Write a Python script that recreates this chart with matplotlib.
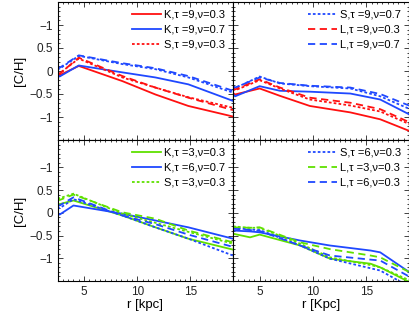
import numpy as np
import matplotlib
matplotlib.use('Agg')
import matplotlib.pyplot as plt
from matplotlib.ticker import MultipleLocator

plt.rcParams['font.family'] = ['Liberation Sans', 'DejaVu Sans']

RED = '#ff1010'
BLUE = '#1f48ff'
GREEN = '#5fe000'

# radius sample points (kpc)
r = [2.5, 2.7, 4.5, 8.6, 11.7, 14.8, 19.0]
r_b = [2.5, 2.7, 4.0, 8.6, 11.7, 14.8, 19.0]
r_r = [2.5, 2.7, 5.0, 6.9, 9.7, 13.5, 16.3, 19.0]
r_d = [2.5, 4.1, 5.0, 8.8, 11.6, 15.4, 16.3, 19.0]

# top-left panel
tl_K9_03 = [-0.07, -0.09, 0.11, -0.22, -0.51, -0.76, -0.99]
tl_K9_07 = [-0.08, -0.12, 0.12, -0.03, -0.14, -0.29, -0.65]
tl_S9_03 = [-0.02, -0.05, 0.27, -0.14, -0.36, -0.57, -0.80]
tl_S9_07 = [0.08, 0.05, 0.33, 0.15, 0.04, -0.14, -0.47]
tl_L9_03 = [-0.04, -0.06, 0.29, -0.11, -0.36, -0.58, -0.85]
tl_L9_07 = [0.10, 0.07, 0.34, 0.17, 0.06, -0.11, -0.43]

# top-right panel
tr_K9_03 = [-0.48, -0.51, -0.38, -0.54, -0.76, -0.90, -1.05, -1.30]
tr_K9_07 = [-0.50, -0.55, -0.33, -0.43, -0.45, -0.49, -0.62, -0.94]
tr_S9_03 = [-0.38, -0.42, -0.20, -0.38, -0.62, -0.75, -0.88, -1.15]
tr_S9_07 = [-0.33, -0.37, -0.12, -0.27, -0.33, -0.38, -0.55, -0.82]
tr_L9_03 = [-0.37, -0.40, -0.18, -0.36, -0.58, -0.69, -0.83, -1.11]
tr_L9_07 = [-0.33, -0.36, -0.14, -0.26, -0.32, -0.36, -0.50, -0.75]

# bottom-left panel
bl_K3_03 = [0.20, 0.19, 0.27, -0.06, -0.32, -0.57, -0.81]
bl_K6_07 = [0.00, -0.04, 0.16, -0.02, -0.17, -0.32, -0.57]
bl_S3_03 = [0.34, 0.32, 0.42, -0.02, -0.22, -0.42, -0.68]
bl_S6_03 = [0.12, 0.10, 0.30, -0.06, -0.32, -0.57, -0.94]
bl_L3_03 = [0.30, 0.28, 0.40, 0.01, -0.13, -0.39, -0.65]
bl_L6_03 = [0.18, 0.16, 0.34, -0.06, -0.25, -0.48, -0.75]

# bottom-right panel
br_K3_03 = [-0.46, -0.54, -0.48, -0.72, -1.01, -1.12, -1.20, -1.52]
br_K6_07 = [-0.39, -0.41, -0.43, -0.61, -0.72, -0.83, -0.87, -1.30]
br_S3_03 = [-0.30, -0.33, -0.33, -0.68, -0.98, -1.15, -1.20, -1.48]
br_S6_03 = [-0.33, -0.37, -0.38, -0.72, -1.01, -1.22, -1.27, -1.62]
br_L3_03 = [-0.32, -0.33, -0.32, -0.65, -0.80, -0.94, -0.98, -1.30]
br_L6_03 = [-0.35, -0.38, -0.40, -0.72, -0.94, -1.03, -1.05, -1.40]

yticks = [-1, -0.5, 0, 0.5, 1]
ytick_labels = ['\u22121', '\u22120.5', '0', '0.5', '\u22121']
xticks = [5, 10, 15]

fig = plt.figure(figsize=(4.09, 3.27), dpi=100)
W, H = 409.0, 327.0
x0, xm, x1 = 57.5, 233.0, 409.0
y0, ym, y1 = 2.0, 140.0, 281.0

ax_tl = fig.add_axes([x0/W, 1-ym/H, (xm-x0)/W, (ym-y0)/H])
ax_tr = fig.add_axes([xm/W, 1-ym/H, (x1-xm)/W, (ym-y0)/H])
ax_bl = fig.add_axes([x0/W, 1-y1/H, (xm-x0)/W, (y1-ym)/H])
ax_br = fig.add_axes([xm/W, 1-y1/H, (x1-xm)/W, (y1-ym)/H])

def style(ax, ylim, left, bottom):
    ax.set_xlim(2.5, 19)
    ax.set_ylim(*ylim)
    ax.set_xticks(xticks)
    ax.set_yticks(yticks)
    ax.xaxis.set_minor_locator(MultipleLocator(0.5))
    ax.yaxis.set_minor_locator(MultipleLocator(0.1))
    ax.tick_params(which='both', direction='in', top=True, right=True,
                   labelsize=8.5, colors='#222222', width=0.6)
    ax.tick_params(which='major', length=3.5)
    ax.tick_params(which='minor', length=1.5)
    if left:
        ax.set_yticklabels(ytick_labels)
        ax.set_ylabel('[C/H]', fontsize=9.5, labelpad=2)
    else:
        ax.set_yticklabels([])
    if not bottom:
        ax.set_xticklabels([])
    for s in ax.spines.values():
        s.set_linewidth(0.8)

def legend(ax, handles):
    ax.legend(handles=handles, loc='upper right', frameon=False, fontsize=8,
              handlelength=2.6, handletextpad=0.3, labelspacing=0.45,
              borderaxespad=0.3)

lw = 1.3
# top-left
h1, = ax_tl.plot(r, tl_K9_03, color=RED, lw=lw, label='K,\u03c4 =9,\u03bd=0.3')
h2, = ax_tl.plot(r, tl_K9_07, color=BLUE, lw=lw, label='K,\u03c4 =9,\u03bd=0.7')
h3, = ax_tl.plot(r, tl_S9_03, color=RED, lw=lw, ls=(0, (1.5, 1.2)), label='S,\u03c4 =9,\u03bd=0.3')
h4, = ax_tl.plot(r, tl_S9_07, color=BLUE, lw=lw, ls=(0, (1.5, 1.2)), label='S,\u03c4 =9,\u03bd=0.7')
h5, = ax_tl.plot(r, tl_L9_03, color=RED, lw=lw, ls=(0, (4, 2.5)), label='L,\u03c4 =9,\u03bd=0.3')
h6, = ax_tl.plot(r, tl_L9_07, color=BLUE, lw=lw, ls=(0, (4, 2.5)), label='L,\u03c4 =9,\u03bd=0.7')
legend(ax_tl, [h1, h2, h3])

# top-right
ax_tr.plot(r_r, tr_K9_03, color=RED, lw=lw)
ax_tr.plot(r_r, tr_K9_07, color=BLUE, lw=lw)
ax_tr.plot(r_r, tr_S9_03, color=RED, lw=lw, ls=(0, (1.5, 1.2)))
ax_tr.plot(r_r, tr_S9_07, color=BLUE, lw=lw, ls=(0, (1.5, 1.2)))
ax_tr.plot(r_r, tr_L9_03, color=RED, lw=lw, ls=(0, (4, 2.5)))
ax_tr.plot(r_r, tr_L9_07, color=BLUE, lw=lw, ls=(0, (4, 2.5)))
legend(ax_tr, [h4, h5, h6])

# bottom-left
g1, = ax_bl.plot(r_b, bl_K3_03, color=GREEN, lw=lw, label='K,\u03c4 =3,\u03bd=0.3')
g2, = ax_bl.plot(r_b, bl_K6_07, color=BLUE, lw=lw, label='K,\u03c4 =6,\u03bd=0.7')
g3, = ax_bl.plot(r_b, bl_S3_03, color=GREEN, lw=lw, ls=(0, (1.5, 1.2)), label='S,\u03c4 =3,\u03bd=0.3')
g4, = ax_bl.plot(r_b, bl_S6_03, color=BLUE, lw=lw, ls=(0, (1.5, 1.2)), label='S,\u03c4 =6,\u03bd=0.3')
g5, = ax_bl.plot(r_b, bl_L3_03, color=GREEN, lw=lw, ls=(0, (4, 2.5)), label='L,\u03c4 =3,\u03bd=0.3')
g6, = ax_bl.plot(r_b, bl_L6_03, color=BLUE, lw=lw, ls=(0, (4, 2.5)), label='L,\u03c4 =6,\u03bd=0.3')
legend(ax_bl, [g1, g2, g3])

# bottom-right
ax_br.plot(r_d, br_K3_03, color=GREEN, lw=lw)
ax_br.plot(r_d, br_K6_07, color=BLUE, lw=lw)
ax_br.plot(r_d, br_S3_03, color=GREEN, lw=lw, ls=(0, (1.5, 1.2)))
ax_br.plot(r_d, br_S6_03, color=BLUE, lw=lw, ls=(0, (1.5, 1.2)))
ax_br.plot(r_d, br_L3_03, color=GREEN, lw=lw, ls=(0, (4, 2.5)))
ax_br.plot(r_d, br_L6_03, color=BLUE, lw=lw, ls=(0, (4, 2.5)))
legend(ax_br, [g4, g5, g6])

style(ax_tl, (-1.5, 1.5), True, False)
style(ax_tr, (-1.5, 1.5), False, False)
style(ax_bl, (-1.5, 1.6), True, True)
style(ax_br, (-1.5, 1.6), False, True)
ax_bl.set_xlabel('r [kpc]', fontsize=9.5, labelpad=1)
ax_br.set_xlabel('r [Kpc]', fontsize=9.5, labelpad=1)

fig.savefig('out.png', dpi=100)
